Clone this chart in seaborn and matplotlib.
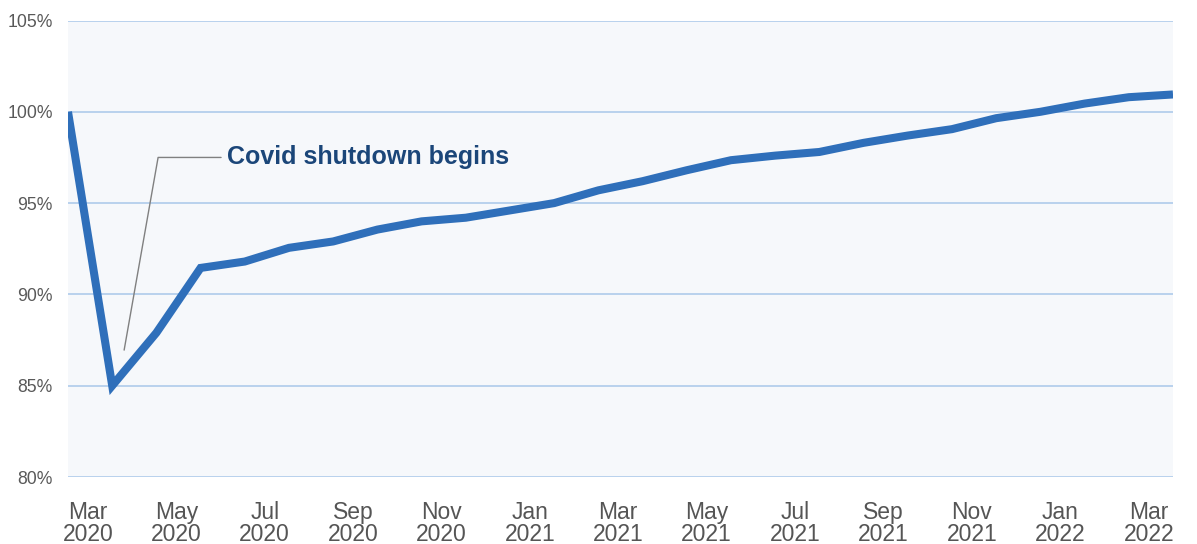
import matplotlib
matplotlib.use("Agg")
import matplotlib.pyplot as plt
import seaborn as sns
import pandas as pd

# ---- data ----
month_index = list(range(26))
values = [100.0, 85.0, 87.9, 91.45, 91.8, 92.55, 92.9, 93.55, 94.0, 94.2,
          94.6, 95.0, 95.7, 96.2, 96.8, 97.35, 97.6, 97.8, 98.3, 98.7,
          99.05, 99.65, 100.0, 100.45, 100.8, 100.95]
tick_labels = ["Mar\n2020", "May\n2020", "Jul\n2020", "Sep\n2020", "Nov\n2020",
               "Jan\n2021", "Mar\n2021", "May\n2021", "Jul\n2021", "Sep\n2021",
               "Nov\n2021", "Jan\n2022", "Mar\n2022"]
y_ticks = [80, 85, 90, 95, 100, 105]
annotation_text = "Covid shutdown begins"

df = pd.DataFrame({"month": month_index, "value": values})

sns.set_theme(style="white")
plt.rcParams["font.family"] = ["Liberation Sans", "DejaVu Sans"]

fig = plt.figure(figsize=(11.97, 5.44), dpi=100)
ax = fig.add_axes([68 / 1197, 1 - 477 / 544, (1173 - 68) / 1197, (477 - 20.5) / 544])
ax.set_facecolor("#f6f8fb")

for yv in y_ticks:
    ax.axhline(yv, color="#a9c7ea", lw=1.1, zorder=1)

sns.lineplot(data=df, x="month", y="value", ax=ax, color="#2f6fba",
             lw=5.8, zorder=3, solid_joinstyle="miter", solid_capstyle="butt")

ax.set_xlim(0, 25)
ax.set_ylim(80, 105)
ax.set_yticks(y_ticks)
ax.set_yticklabels([f"{v}%" for v in y_ticks], fontsize=12.7, color="#595959")
ax.set_xticks([0.45 + 2 * k for k in range(len(tick_labels))])
ax.set_xticklabels(tick_labels, fontsize=16.5, color="#555555", linespacing=0.95)
ax.tick_params(axis="y", length=0, pad=11)
ax.tick_params(axis="x", length=0, pad=17)
ax.set_xlabel("")
ax.set_ylabel("")
for s in ax.spines.values():
    s.set_visible(False)

# annotation leader line + text
ax.annotate(annotation_text, xy=(1.27, 86.95), xytext=(3.6, 97.5),
            textcoords="data", fontsize=18, fontweight="bold", color="#1b4679",
            va="center", ha="left",
            arrowprops=dict(arrowstyle="-", color="#808080", lw=1.0,
                            connectionstyle="angle,angleA=0,angleB=80,rad=0",
                            shrinkA=2, shrinkB=0))

fig.savefig("out.png", dpi=100)
